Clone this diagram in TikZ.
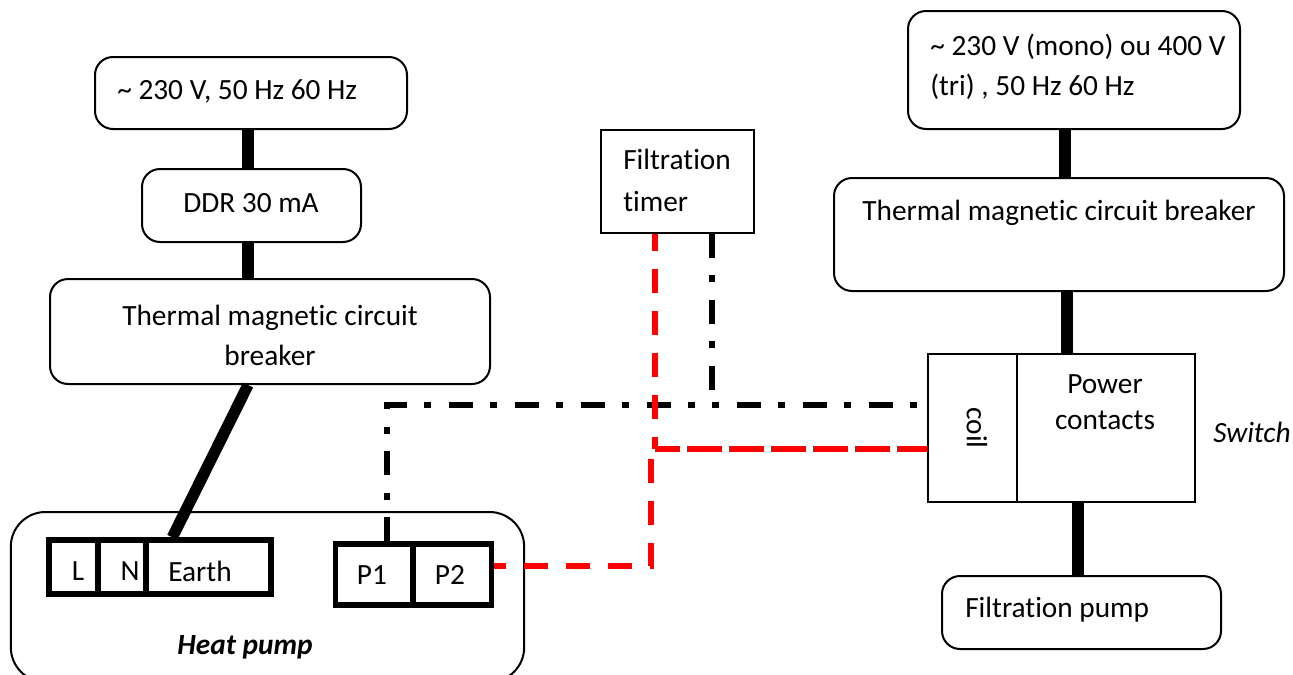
\documentclass[tikz,border=0pt]{standalone}
\usepackage{fontspec}
\setmainfont{Carlito}[Ligatures=NoCommon]
\tikzset{
	roundbox/.style={draw,line width=1.5pt,rounded corners=13.5pt,inner sep=0pt},
	plainbox/.style={draw,line width=1.5pt,inner sep=0pt},
	termbox/.style={draw,line width=4pt,inner sep=0pt},
	txt/.style={font=\fontsize{22}{24}\selectfont,inner sep=0pt},
	powerline/.style={line width=8.5pt},
	controlline/.style={line width=4pt,dash pattern=on 18pt off 13pt on 5pt off 13.5pt},
	signalline/.style={line width=4pt,red,dash pattern=on 18pt off 13.5pt},
	coilline/.style={line width=4pt,red,dash pattern=on 19pt off 5.25pt on 26.25pt off 5.25pt on 26.25pt off 5.25pt on 26.25pt off 5.25pt on 26.25pt off 5.25pt on 26.25pt off 5.25pt on 26.25pt off 5.25pt}
}
\begin{document}
\begin{tikzpicture}[x=0.75pt,y=-0.75pt]
	\useasboundingbox (0,0) rectangle (1293,675);
	\foreach \n/\x/\y/\w/\h in {supplyL/251/93/312/72,ddr/251.5/205.5/219/73,breakerL/270/331.5/440/105,supplyR/1074/70/332/118,breakerR/1059/234.5/450/113,pump/1081.5/612.5/279/73}
		\node[roundbox,minimum width=\w*0.75pt,minimum height=\h*0.75pt] (\n) at (\x,\y) {};
	\node[roundbox,rounded corners=26pt,minimum width=385pt,minimum height=127.5pt] (heatpump) at (267.5,597) {};
	\node[plainbox,minimum width=114.75pt,minimum height=77.25pt] (timer) at (677.5,181.5) {};
	\node[plainbox,minimum width=66.75pt,minimum height=111pt] (coil) at (972.5,428) {};
	\node[plainbox,minimum width=133.5pt,minimum height=111pt] (contacts) at (1106,428) {};
	\foreach \n/\x/\y/\w/\h in {L/73.5/567/49/54,N/122/567/48/54,earth/208.5/567/125/54,Pone/374/574.5/77/61,Ptwo/452.5/574.5/78/61}
		\node[termbox,minimum width=\w*0.75pt,minimum height=\h*0.75pt] (\n) at (\x,\y) {};
	\foreach \a/\b/\x in {supplyL/ddr/248,ddr/breakerL/248,supplyR/breakerR/1065,breakerR/contacts/1067,contacts/pump/1078}
		\draw[powerline] (\a.south -| \x,0) -- (\b.north -| \x,0);
	\draw[line width=8.5pt] ([xshift=-16.5pt]breakerL.south) -- ([xshift=21.75pt]earth.north west);
	\coordinate (redcorner) at (655,449);
	\coordinate (blackjoin) at (712,405);
	\draw[controlline] (Pone.north -| 387,0) |- (blackjoin);
	\draw[controlline,dash phase=31pt] (blackjoin) -- (coil.west |- blackjoin);
	\draw[controlline] (timer.south -| blackjoin) -- (blackjoin);
	\draw[signalline,dash phase=5.25pt] (timer.south -| redcorner) -- (redcorner);
	\draw[coilline] (redcorner) -- (coil.west |- redcorner);
	\draw[signalline,dash phase=9pt] (Ptwo.east |- 0,566) -| (651,449);
	\node[txt,anchor=west] (supplyLtext) at (117,91) {\textasciitilde{} 230 V, 50 Hz 60 Hz};
	\node[txt] (ddrtext) at (251,203) {DDR 30 mA};
	\node[txt,align=center,font=\fontsize{22}{30}\selectfont] (breakerLtext) at (270,335) {Thermal magnetic circuit\\breaker};
	\node[txt,anchor=west,align=left,font=\fontsize{22}{30}\selectfont] (supplyRtext) at (930,67) {\textasciitilde{} 230 V (mono) ou 400 V\\(tri) , 50 Hz 60 Hz};
	\node[txt] (breakerRtext) at (1059,213) {Thermal magnetic circuit breaker};
	\node[txt,anchor=west,align=left,font=\fontsize{22}{31.5}\selectfont] (timertext) at (623,180) {Filtration\\timer};
	\node[txt,rotate=-90] (coiltext) at (977,428) {coil};
	\node[txt,align=center,font=\fontsize{22}{27}\selectfont] (contactstext) at (1105,402) {Power\\contacts};
	\node[txt,font=\fontsize{22}{24}\selectfont\itshape] (switchtext) at (1252,432) {Switch};
	\node[txt,anchor=west] (pumptext) at (965,610) {Filtration pump};
	\node[txt] (Ltext) at (78,571) {L};
	\node[txt] (Ntext) at (130,571) {N};
	\node[txt] (earthtext) at (200,571) {Earth};
	\node[txt] (Ponetext) at (372,575) {P1};
	\node[txt] (Ptwotext) at (450,575) {P2};
	\node[txt,font=\fontsize{22}{24}\selectfont\bfseries\itshape] (heatpumptext) at (245,647) {Heat pump};
\end{tikzpicture}
\end{document}
